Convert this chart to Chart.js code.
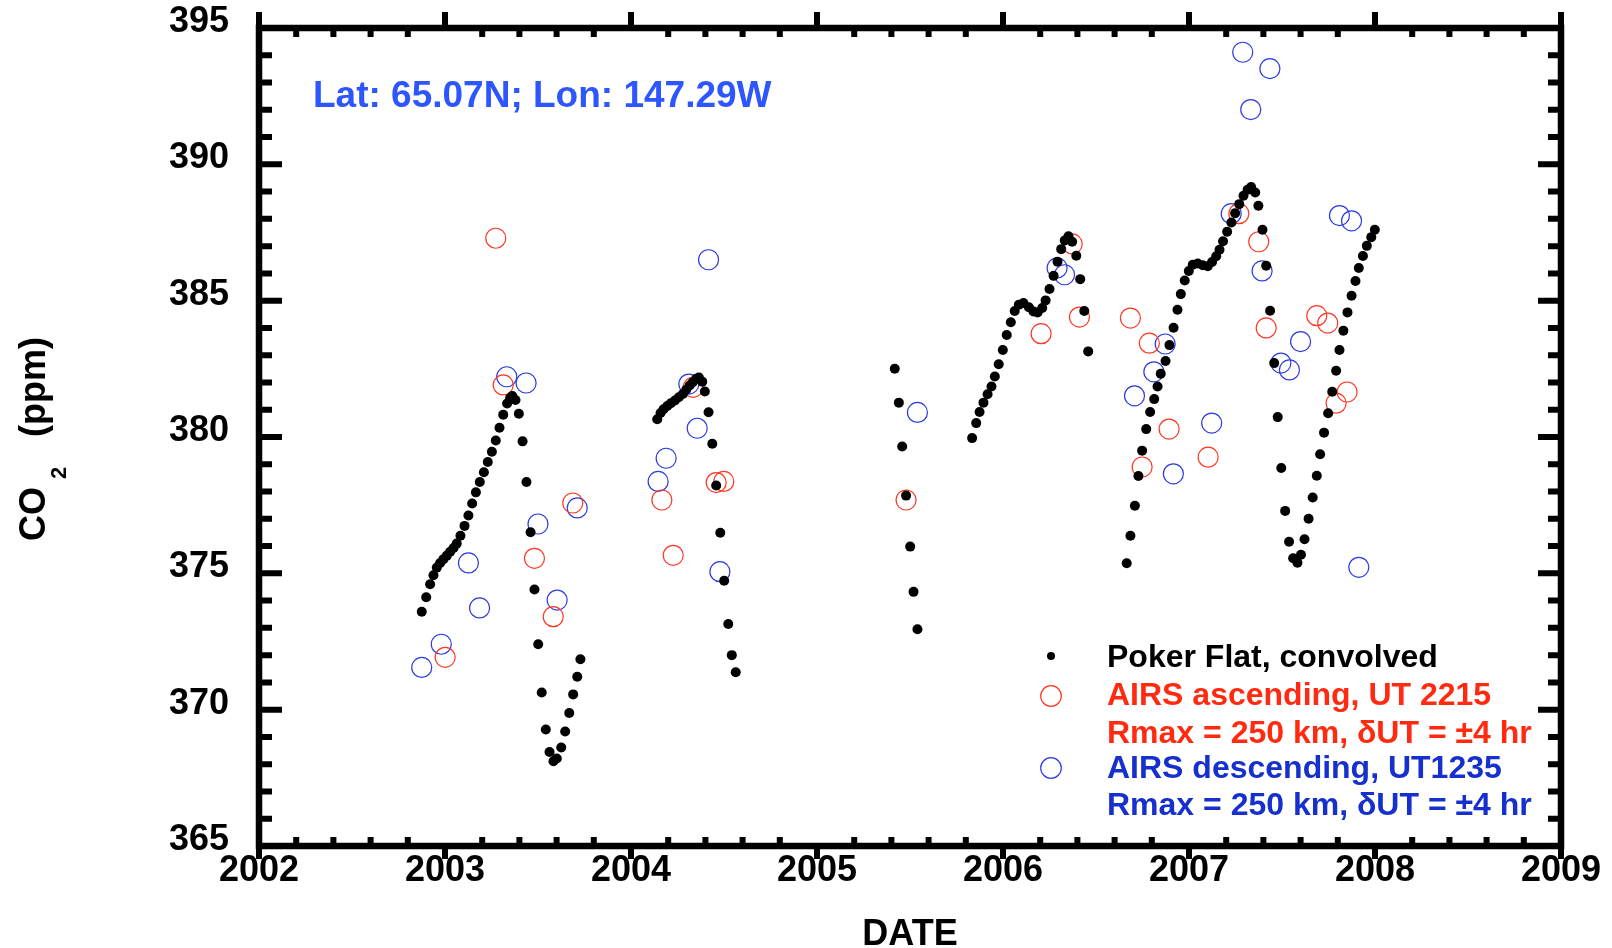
<!DOCTYPE html>
<html>
<head>
<meta charset="utf-8">
<script src="https://cdn.jsdelivr.net/npm/chart.js@4.4.1/dist/chart.umd.min.js"></script>
<style>
  html, body { margin: 0; padding: 0; background: #fff; }
  canvas { display: block; }
</style>
</head>
<body>
<canvas id="chart" width="1612" height="948"></canvas>
<script>
// Poker Flat, convolved (weekly)
const pokerYears = [
  2002.875, 2002.899, 2002.920, 2002.938, 2002.956, 2002.974, 2002.992, 2003.010, 2003.028, 2003.046,
  2003.063, 2003.083, 2003.105, 2003.126, 2003.146, 2003.166, 2003.187, 2003.209, 2003.230, 2003.252,
  2003.273, 2003.293, 2003.313, 2003.334, 2003.350, 2003.362, 2003.379, 2003.397, 2003.417, 2003.438,
  2003.460, 2003.481, 2003.501, 2003.520, 2003.542, 2003.562, 2003.583, 2003.601, 2003.625, 2003.646,
  2003.668, 2003.689, 2003.711, 2003.728,
  2004.141, 2004.159, 2004.175, 2004.195, 2004.214, 2004.236, 2004.257, 2004.279, 2004.297, 2004.315,
  2004.332, 2004.351, 2004.365, 2004.383, 2004.397, 2004.417, 2004.437, 2004.458, 2004.480, 2004.501,
  2004.523, 2004.542, 2004.563,
  2005.418, 2005.440, 2005.458, 2005.479, 2005.501, 2005.519, 2005.540,
  2005.834, 2005.856, 2005.874, 2005.895, 2005.917, 2005.938, 2005.956, 2005.977, 2005.999, 2006.020,
  2006.042, 2006.063, 2006.085, 2006.110, 2006.139, 2006.164, 2006.186, 2006.211, 2006.229, 2006.250,
  2006.272, 2006.293, 2006.313, 2006.332, 2006.352, 2006.372, 2006.394, 2006.415, 2006.437, 2006.458,
  2006.665, 2006.685, 2006.709, 2006.728, 2006.748, 2006.770, 2006.791, 2006.813, 2006.831, 2006.848,
  2006.874, 2006.895, 2006.917, 2006.938, 2006.956, 2006.977, 2006.999, 2007.020, 2007.047, 2007.074,
  2007.101, 2007.124, 2007.146, 2007.164, 2007.183, 2007.205, 2007.228, 2007.248, 2007.270, 2007.293,
  2007.315, 2007.334, 2007.356, 2007.373, 2007.395, 2007.415, 2007.436, 2007.458, 2007.477, 2007.496,
  2007.517, 2007.538, 2007.560, 2007.583, 2007.602, 2007.621, 2007.643, 2007.665, 2007.687, 2007.705,
  2007.726, 2007.748, 2007.770, 2007.791, 2007.809, 2007.830, 2007.852, 2007.874, 2007.895, 2007.913,
  2007.935, 2007.956, 2007.980, 2007.999
];
const pokerCO2 = [
  373.59, 374.12, 374.60, 374.93, 375.21, 375.38, 375.52, 375.65, 375.79, 375.93,
  376.09, 376.38, 376.74, 377.12, 377.56, 377.97, 378.35, 378.71, 379.08, 379.46,
  379.87, 380.34, 380.82, 381.23, 381.43, 381.50, 381.36, 380.85, 379.84, 378.35,
  376.51, 374.41, 372.40, 370.63, 369.27, 368.45, 368.11, 368.21, 368.61, 369.20,
  369.88, 370.56, 371.21, 371.85,
  380.65, 380.88, 381.02, 381.14, 381.24, 381.34, 381.46, 381.58, 381.73, 381.89,
  382.01, 382.14, 382.18, 382.03, 381.67, 380.91, 379.75, 378.22, 376.49, 374.73,
  373.14, 372.00, 371.37,
  382.50, 381.26, 379.65, 377.85, 375.98, 374.32, 372.95,
  379.96, 380.51, 380.92, 381.26, 381.57, 381.85, 382.22, 382.67, 383.19, 383.74,
  384.21, 384.62, 384.85, 384.91, 384.76, 384.60, 384.57, 384.73, 385.01, 385.43,
  385.91, 386.43, 386.89, 387.21, 387.36, 387.16, 386.65, 385.79, 384.62, 383.14,
  375.37, 376.38, 377.48, 378.57, 379.50, 380.29, 380.92, 381.39, 381.85, 382.32,
  382.79, 383.37, 384.01, 384.67, 385.24, 385.74, 386.09, 386.32, 386.36, 386.30,
  386.26, 386.42, 386.63, 386.87, 387.18, 387.53, 387.87, 388.21, 388.54, 388.85,
  389.07, 389.17, 388.97, 388.48, 387.60, 386.28, 384.63, 382.71, 380.73, 378.86,
  377.29, 376.16, 375.55, 375.39, 375.68, 376.25, 377.00, 377.78, 378.58, 379.37,
  380.16, 380.87, 381.66, 382.43, 383.19, 383.90, 384.57, 385.18, 385.72, 386.20,
  386.64, 387.01, 387.33, 387.60
];

// AIRS ascending, UT 2215
const ascYears = [
  2003.001, 2003.273, 2003.313, 2003.481, 2003.582, 2003.687, 2004.166, 2004.227, 2004.334, 2004.458,
  2004.499, 2005.479, 2006.205, 2006.372, 2006.411, 2006.685, 2006.748, 2006.787, 2006.893, 2007.103,
  2007.268, 2007.375, 2007.415, 2007.687, 2007.746, 2007.791, 2007.850
];
const ascCO2 = [
  371.92, 387.29, 381.91, 375.55, 373.41, 377.58, 377.69, 375.66, 381.82, 378.33,
  378.37, 377.69, 383.79, 387.08, 384.40, 384.36, 378.90, 383.44, 380.29, 379.26,
  388.19, 387.16, 384.00, 384.45, 384.18, 381.24, 381.65
];

// AIRS descending, UT1235
const descYears = [
  2002.875, 2002.980, 2003.126, 2003.186, 2003.332, 2003.436, 2003.500, 2003.603, 2003.711, 2004.146,
  2004.189, 2004.311, 2004.356, 2004.417, 2004.478, 2005.540, 2006.291, 2006.331, 2006.707, 2006.811,
  2006.872, 2006.916, 2007.122, 2007.227, 2007.289, 2007.332, 2007.435, 2007.393, 2007.494, 2007.540,
  2007.600, 2007.809, 2007.874, 2007.913
];
const descCO2 = [
  371.55, 372.40, 375.38, 373.73, 382.21, 381.98, 376.81, 374.02, 377.40, 378.37,
  379.22, 381.94, 380.32, 386.50, 375.06, 380.90, 386.20, 385.95, 381.51, 382.39,
  383.41, 378.65, 380.51, 388.19, 394.11, 392.01, 393.51, 386.09, 382.71, 382.46,
  383.50, 388.12, 387.93, 375.22
];

const xTickLabels = [2002, 2003, 2004, 2005, 2006, 2007, 2008, 2009];
const yTickLabels = [365, 370, 375, 380, 385, 390, 395];

const FONT = '"Liberation Sans", Arial, Helvetica, sans-serif';
const RED = 'rgb(255,55,35)', BLUE = 'rgb(45,60,225)';

const toPoints = (xs, ys) => xs.map((x, i) => ({ x, y: ys[i] }));

// box, inward/outward tick marks, axis title, annotation, legend
const decorations = {
  id: 'decorations',
  afterDraw(chart) {
    const { ctx, chartArea: a, scales: { x, y } } = chart;
    ctx.save();
    ctx.strokeStyle = '#000';
    ctx.lineCap = 'butt';
    ctx.lineWidth = 6;
    ctx.beginPath();
    for (let i = 0; i <= 35; i++) {
      const px = x.getPixelForValue(2002 + i * 0.2);
      if (i % 5 === 0) {
        ctx.moveTo(px, a.top); ctx.lineTo(px, a.top - 16);
        ctx.moveTo(px, a.bottom); ctx.lineTo(px, a.bottom + 13);
      } else {
        ctx.moveTo(px, a.top); ctx.lineTo(px, a.top + 9);
        ctx.moveTo(px, a.bottom); ctx.lineTo(px, a.bottom - 9);
      }
    }
    for (let v = 365; v <= 395; v++) {
      const py = y.getPixelForValue(v), len = v % 5 === 0 ? 23 : 13;
      ctx.moveTo(a.left, py); ctx.lineTo(a.left + len, py);
      ctx.moveTo(a.right, py); ctx.lineTo(a.right - len, py);
    }
    ctx.stroke();
    ctx.lineWidth = 6.5;
    ctx.strokeRect(a.left, a.top, a.right - a.left, a.bottom - a.top);

    // y axis title: CO2 (ppm)
    ctx.fillStyle = '#000';
    ctx.textBaseline = 'alphabetic';
    ctx.textAlign = 'left';
    ctx.translate(45, 541);
    ctx.rotate(-Math.PI / 2);
    ctx.font = 'bold 36px ' + FONT;
    ctx.fillText('CO', 0, 0);
    ctx.font = 'bold 22px ' + FONT;
    ctx.fillText('2', 62, 21);
    ctx.font = 'bold 36px ' + FONT;
    ctx.fillText('(ppm)', 104, 0);
    ctx.setTransform(1, 0, 0, 1, 0, 0);

    // site annotation
    ctx.font = 'bold 37px ' + FONT;
    ctx.fillStyle = '#2e56ff';
    ctx.fillText('Lat: 65.07N; Lon: 147.29W', 313, 107);

    // legend
    const lx = 1051, tx = 1107;
    ctx.fillStyle = '#000';
    ctx.beginPath();
    ctx.arc(lx, 656, 4, 0, Math.PI * 2);
    ctx.fill();
    ctx.lineWidth = 1.2;
    ctx.strokeStyle = RED;
    ctx.beginPath();
    ctx.arc(lx, 696, 10.3, 0, Math.PI * 2);
    ctx.stroke();
    ctx.strokeStyle = BLUE;
    ctx.beginPath();
    ctx.arc(lx, 768, 10.3, 0, Math.PI * 2);
    ctx.stroke();

    ctx.font = 'bold 32px ' + FONT;
    ctx.fillStyle = '#000';
    ctx.fillText('Poker Flat, convolved', tx, 667);
    ctx.fillStyle = '#ff2a10';
    ctx.fillText('AIRS ascending, UT 2215', tx, 705);
    ctx.fillText('Rmax = 250 km, \u03b4UT = \u00b14 hr', tx, 743);
    ctx.fillStyle = '#1530cc';
    ctx.fillText('AIRS descending, UT1235', tx, 778);
    ctx.fillText('Rmax = 250 km, \u03b4UT = \u00b14 hr', tx, 815);
    ctx.restore();
  }
};

new Chart(document.getElementById('chart'), {
  type: 'scatter',
  data: {
    datasets: [
      {
        label: 'Poker Flat, convolved',
        data: toPoints(pokerYears, pokerCO2),
        pointRadius: 5,
        pointBackgroundColor: '#000',
        pointBorderWidth: 0
      },
      {
        label: 'AIRS ascending, UT 2215',
        data: toPoints(ascYears, ascCO2),
        pointRadius: 10,
        pointBackgroundColor: 'rgba(0,0,0,0)',
        pointBorderColor: RED,
        pointBorderWidth: 1.2
      },
      {
        label: 'AIRS descending, UT1235',
        data: toPoints(descYears, descCO2),
        pointRadius: 10,
        pointBackgroundColor: 'rgba(0,0,0,0)',
        pointBorderColor: BLUE,
        pointBorderWidth: 1.2
      }
    ]
  },
  options: {
    responsive: false,
    animation: false,
    devicePixelRatio: 1,
    layout: { padding: { top: 28, right: 51, bottom: 0, left: 0 } },
    plugins: {
      legend: { display: false },
      tooltip: { enabled: false }
    },
    scales: {
      x: {
        type: 'linear',
        min: 2002,
        max: 2009,
        afterFit: (s) => {
          s.height = 102;
          s.paddingLeft = 0;
          s.paddingRight = 0;
        },
        afterBuildTicks: (s) => { s.ticks = xTickLabels.map((v) => ({ value: v })); },
        grid: { display: false, drawTicks: false },
        border: { display: false },
        ticks: {
          color: '#000',
          padding: 3,
          maxRotation: 0,
          callback: (v) => String(v),
          font: { family: FONT, size: 36, weight: 'bold' }
        },
        title: {
          display: true,
          text: 'DATE',
          color: '#000',
          padding: { top: 0, bottom: -5 },
          font: { family: FONT, size: 36, weight: 'bold', lineHeight: 1 }
        }
      },
      y: {
        type: 'linear',
        min: 365,
        max: 395,
        afterFit: (s) => {
          s.width = 259;
          s.paddingTop = 0;
          s.paddingBottom = 0;
        },
        afterBuildTicks: (s) => { s.ticks = yTickLabels.map((v) => ({ value: v })); },
        grid: { display: false, drawTicks: false },
        border: { display: false },
        ticks: {
          color: '#000',
          padding: 30,
          labelOffset: -6,
          callback: (v) => String(v),
          font: { family: FONT, size: 36, weight: 'bold' }
        }
      }
    }
  },
  plugins: [decorations]
});
</script>
</body>
</html>
